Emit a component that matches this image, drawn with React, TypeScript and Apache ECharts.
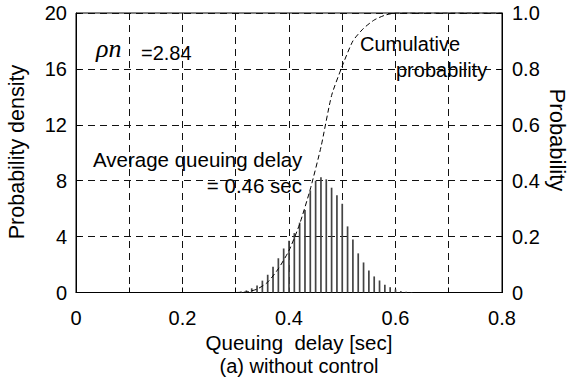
import React, { useEffect, useRef } from "react";
import * as echarts from "echarts";

// Histogram (probability density) of queuing delay, bins every 0.01 sec
const delayBins = [
  0.31, 0.32, 0.33, 0.34, 0.35, 0.36, 0.37, 0.38, 0.39, 0.4,
  0.41, 0.42, 0.43, 0.44, 0.45, 0.46, 0.47, 0.48, 0.49, 0.5,
  0.51, 0.52, 0.53, 0.54, 0.55, 0.56, 0.57, 0.58, 0.59, 0.6,
  0.61, 0.62, 0.63,
];
const density = [
  0.08, 0.15, 0.3, 0.5, 0.85, 1.27, 1.85, 2.45, 3.15, 3.7,
  4.25, 5.0, 5.9, 7.3, 8.0, 8.25, 8.1, 7.5, 6.95, 6.35,
  4.73, 3.8, 2.8, 2.15, 1.58, 1.15, 0.86, 0.55, 0.38, 0.22,
  0.1, 0.05, 0.03,
];

// Cumulative probability curve
const cdfDelay = [0.3, 0.32, 0.34, 0.36, 0.38, 0.4, 0.42, 0.44, 0.46, 0.48, 0.5, 0.52, 0.54, 0.56, 0.58, 0.6, 0.8];
const cdfProb = [0, 0.002, 0.012, 0.037, 0.085, 0.15, 0.245, 0.37, 0.52, 0.705, 0.81, 0.9, 0.945, 0.975, 0.992, 1.0, 1.0];

const xTickLabels = ["0", "0.2", "0.4", "0.6", "0.8"];
const leftTickLabels = ["0", "4", "8", "12", "16", "20"];
const rightTickLabels = ["0", "0.2", "0.4", "0.6", "0.8", "1.0"];

const FONT = "'Liberation Sans', Arial, Helvetica, sans-serif";

export default function App() {
  const ref = useRef<HTMLDivElement>(null);

  useEffect(() => {
    if (!ref.current) return;
    const chart = echarts.init(ref.current, undefined, { renderer: "svg" });
    const gridLine = { show: true, lineStyle: { color: "#111", width: 1, type: [7, 5] as any } };
    const axisLine = { show: true, lineStyle: { color: "#000", width: 1 } };
    const tick = { show: true, inside: true, length: 5, lineStyle: { color: "#000" } };

    chart.setOption({
      animation: false,
      backgroundColor: "#fff",
      grid: {
        left: 76,
        top: 13,
        width: 426,
        height: 279.5,
        show: true,
        borderColor: "#000",
        borderWidth: 1,
        backgroundColor: "transparent",
      },
      xAxis: {
        type: "value",
        min: 0,
        max: 0.8,
        interval: 0.1,
        axisLine,
        axisTick: tick,
        splitLine: gridLine,
        axisLabel: {
          margin: 15,
          fontSize: 20,
          fontFamily: FONT,
          color: "#000",
          formatter: (v: number) => {
            const i = Math.round(v * 10);
            return i % 2 === 0 ? xTickLabels[i / 2] : "";
          },
        },
      },
      yAxis: [
        {
          type: "value",
          min: 0,
          max: 20,
          interval: 4,
          position: "left",
          axisLine,
          axisTick: tick,
          splitLine: gridLine,
          axisLabel: {
            margin: 9,
            fontSize: 20,
            fontFamily: FONT,
            color: "#000",
            formatter: (v: number) => leftTickLabels[Math.round(v / 4)],
          },
        },
        {
          type: "value",
          min: 0,
          max: 1,
          interval: 0.2,
          position: "right",
          axisLine,
          axisTick: tick,
          splitLine: { show: false },
          axisLabel: {
            margin: 10,
            fontSize: 20,
            fontFamily: FONT,
            color: "#000",
            formatter: (v: number) => rightTickLabels[Math.round(v / 0.2)],
          },
        },
      ],
      series: [
        {
          type: "bar",
          yAxisIndex: 0,
          barWidth: 1.7,
          itemStyle: { color: "#444" },
          data: delayBins.map((x, i) => [x, density[i]]),
        },
        {
          type: "line",
          yAxisIndex: 1,
          symbol: "none",
          smooth: 0.2,
          lineStyle: { color: "#000", width: 1, type: [5, 3] as any },
          data: cdfDelay.map((x, i) => [x, cdfProb[i]]),
        },
      ],
      graphic: [
        {
          type: "text",
          x: 96,
          y: 48,
          style: {
            text: "ρn",
            fontSize: 26,
            fontStyle: "italic",
            fontFamily: "'Liberation Serif', 'DejaVu Serif', serif",
            fill: "#000",
            verticalAlign: "middle",
          },
        },
        {
          type: "text",
          x: 141,
          y: 53,
          style: { text: "=2.84", fontSize: 20, fontFamily: FONT, fill: "#000", verticalAlign: "middle" },
        },
        {
          type: "text",
          x: 360,
          y: 44,
          style: { text: "Cumulative", fontSize: 20, fontFamily: FONT, fill: "#000", verticalAlign: "middle" },
        },
        {
          type: "text",
          x: 396,
          y: 70,
          style: { text: "probability", fontSize: 20, fontFamily: FONT, fill: "#000", verticalAlign: "middle" },
        },
        {
          type: "text",
          x: 93,
          y: 159,
          style: { text: "Average queuing delay", fontSize: 20.5, fontFamily: FONT, fill: "#000", verticalAlign: "middle" },
        },
        {
          type: "text",
          x: 302,
          y: 185,
          style: {
            text: "= 0.46 sec",
            fontSize: 20.5,
            fontFamily: FONT,
            fill: "#000",
            align: "right",
            verticalAlign: "middle",
          },
        },
        {
          type: "text",
          x: 17,
          y: 152,
          rotation: Math.PI / 2,
          style: {
            text: "Probability density",
            fontSize: 21.5,
            fontFamily: FONT,
            fill: "#000",
            align: "center",
            verticalAlign: "middle",
          },
        },
        {
          type: "text",
          x: 557,
          y: 140,
          rotation: -Math.PI / 2,
          style: {
            text: "Probability",
            fontSize: 22,
            fontFamily: FONT,
            fill: "#000",
            align: "center",
            verticalAlign: "middle",
          },
        },
        {
          type: "text",
          x: 299,
          y: 342,
          style: {
            text: "Queuing  delay [sec]",
            fontSize: 20.5,
            fontFamily: FONT,
            fill: "#000",
            align: "center",
            verticalAlign: "middle",
          },
        },
        {
          type: "text",
          x: 299,
          y: 366,
          style: {
            text: "(a) without control",
            fontSize: 20,
            fontFamily: FONT,
            fill: "#000",
            align: "center",
            verticalAlign: "middle",
          },
        },
      ],
    });
    return () => chart.dispose();
  }, []);

  return <div ref={ref} style={{ width: 569, height: 380, position: "absolute", left: 0, top: 0 }} />;
}
